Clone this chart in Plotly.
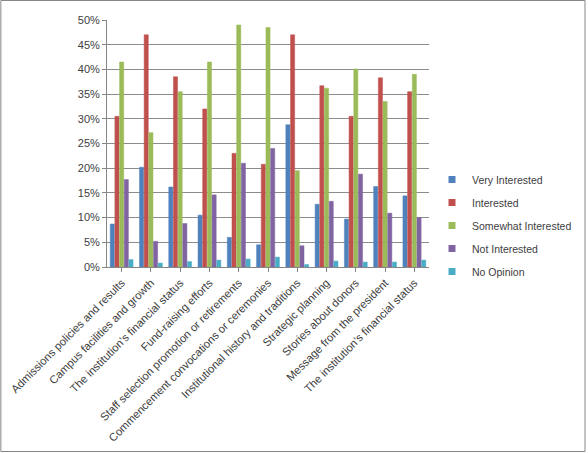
import plotly.graph_objects as go

categories = [
    "Admissions policies and results",
    "Campus facilities and growth",
    "The institution\u2019s financial status",
    "Fund-raising efforts",
    "Staff selection promotion or retirements",
    "Commencement convocations or ceremonies",
    "Institutional history and traditions",
    "Strategic planning",
    "Stories about donors",
    "Message from the president",
    "The institution\u2019s financial status",
]
very_interested = [8.7, 20.2, 16.2, 10.5, 6.0, 4.5, 28.8, 12.7, 9.7, 16.3, 14.4]
interested = [30.5, 47.0, 38.5, 32.0, 23.0, 20.8, 47.0, 36.7, 30.5, 38.3, 35.5]
somewhat_interested = [41.5, 27.2, 35.5, 41.5, 49.0, 48.5, 19.5, 36.2, 40.1, 33.5, 39.0]
not_interested = [17.7, 5.2, 8.8, 14.6, 21.0, 24.0, 4.3, 13.3, 18.8, 10.9, 10.0]
no_opinion = [1.5, 0.8, 1.1, 1.4, 1.6, 2.0, 0.5, 1.2, 1.0, 1.0, 1.4]

series = [
    ("Very Interested", very_interested, "#4F81BD"),
    ("Interested", interested, "#C0504D"),
    ("Somewhat Interested", somewhat_interested, "#9BBB59"),
    ("Not Interested", not_interested, "#8064A2"),
    ("No Opinion", no_opinion, "#4BACC6"),
]

x = list(range(len(categories)))
fig = go.Figure()
for name, vals, col in series:
    fig.add_trace(go.Bar(
        x=x, y=[v / 100 for v in vals], name=name, legendgroup=name,
        showlegend=False,
        marker=dict(color=col, line=dict(color=col, width=0.5)),
    ))
    # legend-only entry with a small square swatch
    fig.add_trace(go.Scatter(
        x=[None], y=[None], mode="markers", name=name, legendgroup=name,
        marker=dict(symbol="square", size=7, color=col),
        hoverinfo="skip",
    ))

L, R, T, B = 107, 158, 20, 186
W, H = 588, 453
pw, ph = W - L - R, H - T - B

fig.update_layout(
    width=W, height=H,
    margin=dict(l=L, r=R, t=T, b=B),
    paper_bgcolor="white", plot_bgcolor="white",
    barmode="group", bargap=0.2, bargroupgap=0.12,
    font=dict(family="Liberation Sans, Arial, sans-serif", size=10, color="#404040"),
    showlegend=True,
    legend=dict(x=(432 - L) / pw, y=(267 - 165) / ph, xanchor="left", yanchor="top",
                font=dict(size=10.5), bgcolor="rgba(0,0,0,0)", itemwidth=30,
                traceorder="grouped", tracegroupgap=4),
    xaxis=dict(
        tickmode="array", tickvals=x, ticktext=categories, tickangle=-45,
        range=[-0.5, len(categories) - 0.5], automargin=False,
        showline=True, linecolor="#868686", linewidth=1,
        ticks="outside", ticklen=4, tickcolor="#868686",
        showgrid=False, tickfont=dict(size=11.2, color="#404040"),
    ),
    yaxis=dict(
        range=[0, 0.5], dtick=0.05, tickformat=".0%", automargin=False,
        showgrid=True, gridcolor="#8C8C8C", gridwidth=1,
        showline=True, linecolor="#868686", linewidth=1,
        ticks="outside", ticklen=4, tickcolor="#868686",
        zeroline=False, tickfont=dict(size=11, color="#404040"),
    ),
    shapes=[dict(
        type="rect", xref="paper", yref="paper",
        x0=(-L + 0.5) / pw, x1=(W - L - 1.5) / pw,
        y0=(-B + 1.5) / ph, y1=(ph + T - 0.5) / ph,
        line=dict(color="#878787", width=1), fillcolor="rgba(0,0,0,0)",
    )],
)

fig.write_html(
    "out.html",
    config={"displayModeBar": False},
    post_script="document.body.style.margin='0';document.body.style.overflow='hidden';",
)
